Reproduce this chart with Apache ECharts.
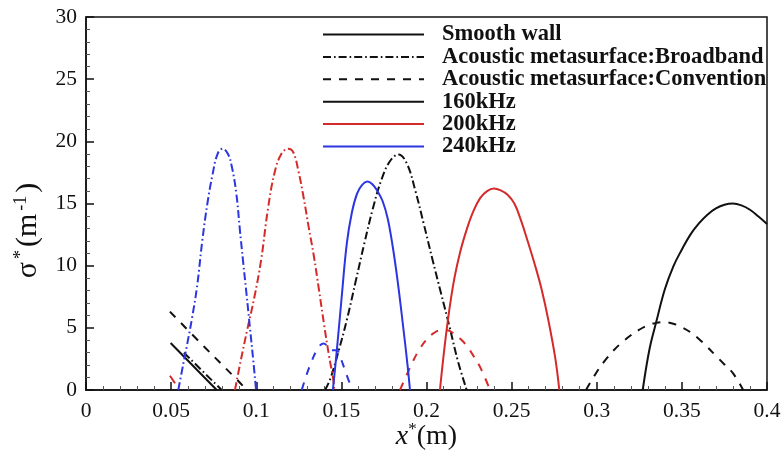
<!DOCTYPE html>
<html>
<head>
<meta charset="utf-8">
<script src="https://cdn.jsdelivr.net/npm/echarts@6/dist/echarts.min.js"></script>
<style>html,body{margin:0;padding:0;background:#fff;}#c{width:783px;height:450px;}</style>
</head>
<body>
<div id="c"></div>
<script>
// ---- data (x*, sigma*) ----
var legendNames = ['Smooth wall', 'Acoustic metasurface:Broadband', 'Acoustic metasurface:Convention', '160kHz', '200kHz', '240kHz'];
var xTicks = [0, 0.05, 0.1, 0.15, 0.2, 0.25, 0.3, 0.35, 0.4];
var yTicks = [0, 5, 10, 15, 20, 25, 30];

// 160 kHz (black)
var smooth160Left = [[0.0497, 3.78], [0.0768, 0]];
var smooth160Right = [[0.327, 0], [0.331, 3.3], [0.335, 5.5], [0.340, 8.1], [0.345, 9.95], [0.350, 11.3], [0.355, 12.5], [0.360, 13.4], [0.365, 14.1], [0.370, 14.6], [0.375, 14.9], [0.380, 15.0], [0.385, 14.85], [0.390, 14.5], [0.395, 13.95], [0.400, 13.35]];
var broad160Left = [[0.0575, 3.0], [0.0797, 0]];
var broad160 = [[0.1404, 0], [0.1435, 0.9], [0.1485, 3.2], [0.1535, 5.8], [0.1585, 8.8], [0.1635, 11.8], [0.1685, 14.6], [0.1735, 16.9], [0.1785, 18.4], [0.1835, 18.95], [0.1885, 18.2], [0.1935, 16.0], [0.1985, 13.3], [0.2035, 10.5], [0.2085, 7.8], [0.2135, 5.1], [0.2185, 2.3], [0.2236, 0]];
var conv160Left = [[0.0493, 6.3], [0.07, 3.4], [0.0885, 0.86], [0.092, 0.35]];
var conv160Right = [[0.2937, 0], [0.300, 1.45], [0.305, 2.4], [0.310, 3.2], [0.315, 3.85], [0.320, 4.4], [0.325, 4.85], [0.330, 5.2], [0.335, 5.4], [0.340, 5.45], [0.345, 5.33], [0.350, 5.05], [0.355, 4.65], [0.360, 4.1], [0.365, 3.45], [0.370, 2.75], [0.375, 2.05], [0.380, 1.35], [0.386, 0]];

// 200 kHz (red)
var smooth200Left = [[0.0493, 1.15], [0.0523, 0.54]];
var smooth200 = [[0.2079, 0], [0.2116, 4.6], [0.2156, 8.4], [0.2196, 11.0], [0.2236, 12.9], [0.2276, 14.4], [0.2316, 15.45], [0.2356, 16.0], [0.2396, 16.2], [0.2436, 16.05], [0.2476, 15.7], [0.2516, 15.0], [0.2556, 13.6], [0.2596, 11.9], [0.2636, 10.1], [0.2676, 8.1], [0.2716, 5.6], [0.2756, 2.6], [0.278, 0]];
var broad200 = [[0.0875, 0], [0.0908, 2.3], [0.0948, 4.9], [0.0988, 7.4], [0.1028, 10.4], [0.1068, 14.5], [0.1108, 17.5], [0.1148, 19.0], [0.1188, 19.4], [0.1218, 19.1], [0.1248, 17.6], [0.1278, 15.5], [0.1308, 13.1], [0.1338, 10.8], [0.1368, 8.1], [0.1398, 5.3], [0.1428, 2.7], [0.1453, 0.8], [0.1458, 0]];
var conv200 = [[0.1844, 0], [0.188, 1.1], [0.192, 2.3], [0.196, 3.3], [0.200, 4.05], [0.204, 4.55], [0.208, 4.8], [0.212, 4.8], [0.216, 4.55], [0.220, 4.1], [0.224, 3.5], [0.228, 2.65], [0.232, 1.7], [0.2373, 0]];

// 240 kHz (blue)
var smooth240 = [[0.1450, 0], [0.1472, 3.0], [0.1502, 7.5], [0.1532, 11.8], [0.1562, 14.3], [0.1592, 15.8], [0.1622, 16.5], [0.1652, 16.76], [0.1682, 16.55], [0.1712, 16.0], [0.1742, 15.2], [0.1772, 13.8], [0.1802, 11.5], [0.1832, 8.6], [0.1862, 5.2], [0.1887, 2.2], [0.1903, 0]];
var broad240 = [[0.0542, 0], [0.0563, 1.5], [0.0593, 3.6], [0.0623, 5.8], [0.0653, 8.4], [0.0683, 12.0], [0.0713, 15.0], [0.0743, 17.3], [0.0773, 19.0], [0.0803, 19.4], [0.0833, 19.0], [0.0856, 18.0], [0.0883, 15.8], [0.0903, 13.0], [0.0923, 10.3], [0.0943, 7.7], [0.0963, 5.0], [0.0983, 2.3], [0.0999, 0]];
var conv240 = [[0.1267, 0], [0.1295, 1.2], [0.1325, 2.3], [0.136, 3.3], [0.1394, 3.75], [0.1414, 3.6], [0.144, 3.2], [0.1473, 3.2], [0.1492, 2.7], [0.1521, 1.6], [0.1545, 0.7], [0.157, 0]];

var BLACK = '#111111', RED = '#d42a2a', BLUE = '#2b35e0';
var DASHDOT = [8, 3, 1.6, 3];
var DASHED = [8, 8];
var LW = 2;

function curve(id, data, color, type) {
  return {
    id: id, type: 'line', data: data, symbol: 'none', smooth: 0.4, silent: true,
    lineStyle: { color: color, width: LW, type: type }, z: 3
  };
}
function legendSeries(name, color, type) {
  return {
    name: name, type: 'line', data: [], symbol: 'none',
    itemStyle: { color: color },
    lineStyle: { color: color, width: LW, type: type }
  };
}

var serif = '"Liberation Serif", "Times New Roman", serif';
var chart = echarts.init(document.getElementById('c'), null, { renderer: 'canvas' });
chart.setOption({
  animation: false,
  backgroundColor: '#ffffff',
  grid: { left: 86, right: 16, top: 17, bottom: 60, show: true, borderColor: '#111', borderWidth: 1.5, backgroundColor: 'transparent', containLabel: false, outerBoundsMode: 'none' },
  legend: {
    data: legendNames,
    orient: 'vertical',
    left: 322, top: 23, padding: 0,
    itemWidth: 101, itemHeight: 14, itemGap: -0.6,
    itemStyle: { color: 'transparent', borderColor: 'transparent', borderWidth: 0, opacity: 0 },
    textStyle: { fontFamily: serif, fontWeight: 'bold', fontSize: 22.5, color: '#111', lineHeight: 20, padding: [0, 0, 0, 13] },
    inactiveColor: '#111'
  },
  xAxis: {
    type: 'value', min: 0, max: 0.4, interval: 0.05,
    name: '{i|x}{s|*}{n|(m)}', nameLocation: 'middle', nameGap: 31, nameMoveOverlap: false,
    nameTextStyle: {
      rich: {
        i: { fontFamily: serif, fontStyle: 'italic', fontSize: 28, color: '#111' },
        s: { fontFamily: serif, fontSize: 17, color: '#111', verticalAlign: 'top', padding: [0, 0, 14, 0] },
        n: { fontFamily: serif, fontSize: 28, color: '#111' }
      }
    },
    axisLine: { show: true, lineStyle: { color: '#111', width: 1.5 } },
    axisTick: { show: true, inside: true, length: 8, lineStyle: { color: '#111', width: 1.5 } },
    minorTick: { show: true, splitNumber: 5, length: 4, lineStyle: { color: '#555', width: 1 } },
    splitLine: { show: false },
    axisLabel: {
      margin: 10, fontFamily: serif, fontSize: 21.5, color: '#111',
      formatter: function (v) { return String(+v.toFixed(2)); }
    }
  },
  yAxis: {
    type: 'value', min: 0, max: 30, interval: 5,
    name: '{n|σ}{s|*}{n|(m}{s|-1}{n|)}', nameLocation: 'middle', nameGap: 41, nameRotate: 90, nameMoveOverlap: false,
    nameTextStyle: {
      padding: [0, 54, 0, 0],
      rich: {
        n: { fontFamily: serif, fontSize: 30, color: '#111', padding: [0, 2, 0, 2] },
        s: { fontFamily: serif, fontSize: 18, color: '#111', verticalAlign: 'top', padding: [0, 1, 15, 1] }
      }
    },
    axisLine: { show: true, lineStyle: { color: '#111', width: 1.5 } },
    axisTick: { show: true, inside: true, length: 8, lineStyle: { color: '#111', width: 1.5 } },
    minorTick: { show: true, splitNumber: 5, length: 4, lineStyle: { color: '#555', width: 1 } },
    splitLine: { show: false },
    axisLabel: { margin: 9, fontFamily: serif, fontSize: 21.5, color: '#111' }
  },
  series: [
    legendSeries(legendNames[0], BLACK, 'solid'),
    legendSeries(legendNames[1], BLACK, DASHDOT),
    legendSeries(legendNames[2], BLACK, DASHED),
    legendSeries(legendNames[3], BLACK, 'solid'),
    legendSeries(legendNames[4], RED, 'solid'),
    legendSeries(legendNames[5], BLUE, 'solid'),
    curve('s160L', smooth160Left, BLACK, 'solid'),
    curve('s160R', smooth160Right, BLACK, 'solid'),
    curve('b160L', broad160Left, BLACK, DASHDOT),
    curve('b160', broad160, BLACK, DASHDOT),
    curve('c160L', conv160Left, BLACK, DASHED),
    curve('c160R', conv160Right, BLACK, DASHED),
    curve('s200L', smooth200Left, RED, 'solid'),
    curve('s200', smooth200, RED, 'solid'),
    curve('b200', broad200, RED, DASHDOT),
    curve('c200', conv200, RED, DASHED),
    curve('s240', smooth240, BLUE, 'solid'),
    curve('b240', broad240, BLUE, DASHDOT),
    curve('c240', conv240, BLUE, DASHED)
  ]
});
</script>
</body>
</html>
